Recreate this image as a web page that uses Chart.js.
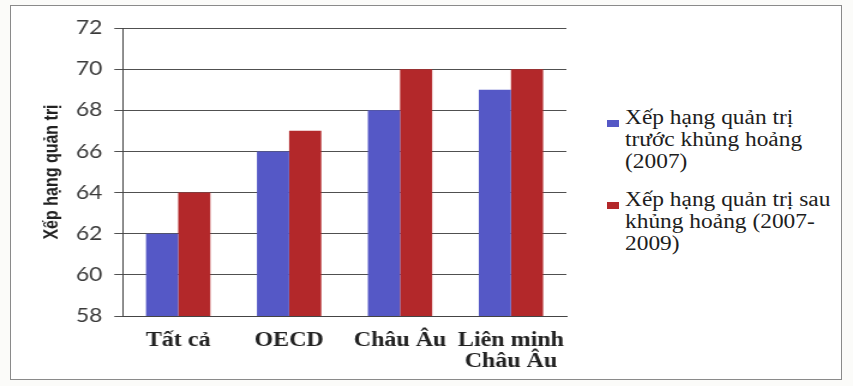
<!DOCTYPE html>
<html>
<head>
<meta charset="utf-8">
<script src="https://cdn.jsdelivr.net/npm/chart.js@4.4.0/dist/chart.umd.min.js"></script>
<style>
    html, body { margin: 0; padding: 0; background: #fbfbf9; }
    #frame {
        position: absolute; left: 10px; top: 5px; width: 830px; height: 373px;
        border: 1px solid #8a8a8a; background: #ffffff;
    }
    /* the scanned original is stretched sideways, so the chart is too */
    #wrap {
        position: absolute; left: 0; top: 0; width: 492px; height: 386px;
        transform: scaleX(1.2); transform-origin: 0 0;
    }
    #legend { position: absolute; left: 607px; top: 106px; width: 240px; }
    .item { position: relative; margin-bottom: 16px; height: 66px; }
    .box { position: absolute; left: 0; top: 14px; width: 12px; height: 7px; }
    .text {
        position: absolute; left: 18px; top: 0; white-space: nowrap;
        font-family: 'Liberation Serif', 'Times New Roman', serif;
        font-size: 20px; line-height: 22px; color: #1e1e1e;
        transform: scaleX(1.17); transform-origin: 0 0;
    }
</style>
</head>
<body>
<div id="frame"></div>
<div id="wrap"><canvas id="governanceChart" width="492" height="386"></canvas></div>
<div id="legend"></div>
<script>
// Data
const categories = ['Tất cả', 'OECD', 'Châu Âu', ['Liên minh', 'Châu Âu']];
const beforeCrisis = [62, 66, 68, 69];
const afterCrisis = [64, 67, 70, 70];
const seriesNames = [
    ['Xếp hạng quản trị', 'trước khủng hoảng', '(2007)'],
    ['Xếp hạng quản trị sau', 'khủng hoảng (2007-', '2009)']
];
const yTicks = [58, 60, 62, 64, 66, 68, 70, 72];

const seriesColors = ['#5558c6', '#b3282a'];

document.addEventListener('DOMContentLoaded', function() {
    const ctx = document.getElementById('governanceChart').getContext('2d');

    const chart = new Chart(ctx, {
        type: 'bar',
        data: {
            labels: categories,
            datasets: [{
                label: seriesNames[0].join(' '),
                data: beforeCrisis,
                backgroundColor: seriesColors[0],
                categoryPercentage: 0.58,
                barPercentage: 1.0
            }, {
                label: seriesNames[1].join(' '),
                data: afterCrisis,
                backgroundColor: seriesColors[1],
                categoryPercentage: 0.58,
                barPercentage: 1.0
            }]
        },
        options: {
            responsive: false,
            animation: false,
            layout: {
                padding: { left: 30, top: 28, right: 20, bottom: 0 }
            },
            plugins: {
                legend: { display: false },
                tooltip: { enabled: false }
            },
            scales: {
                x: {
                    grid: { display: false, drawTicks: false },
                    border: { color: '#444', width: 1 },
                    ticks: {
                        color: '#222',
                        padding: 14,
                        maxRotation: 0,
                        font: { family: "'Liberation Serif', 'Times New Roman', serif", size: 20, weight: 'bold', lineHeight: 1.05 }
                    }
                },
                y: {
                    min: 58,
                    max: 72,
                    afterBuildTicks: function(axis) {
                        axis.ticks = yTicks.map(v => ({ value: v }));
                    },
                    grid: { color: '#505050', lineWidth: 1, tickLength: 7 },
                    border: { color: '#444', width: 1 },
                    ticks: {
                        color: '#3a3a3a',
                        padding: 10,
                        font: { family: "'Lato', 'Open Sans', sans-serif", size: 19 }
                    },
                    title: {
                        display: true,
                        text: 'Xếp hạng quản trị',
                        color: '#222',
                        padding: { top: 4, bottom: 0 },
                        font: { family: "'Liberation Sans', Arial, sans-serif", size: 16, weight: 'bold' }
                    }
                }
            }
        }
    });

    // HTML legend with wrapped lines, built from the series names
    const legend = document.getElementById('legend');
    seriesNames.forEach(function(lines, i) {
        const item = document.createElement('div');
        item.className = 'item';
        const box = document.createElement('span');
        box.className = 'box';
        box.style.background = seriesColors[i];
        item.appendChild(box);
        const text = document.createElement('div');
        text.className = 'text';
        lines.forEach(function(line, j) {
            if (j > 0) text.appendChild(document.createElement('br'));
            text.appendChild(document.createTextNode(line));
        });
        item.appendChild(text);
        legend.appendChild(item);
    });
});
</script>
</body>
</html>
